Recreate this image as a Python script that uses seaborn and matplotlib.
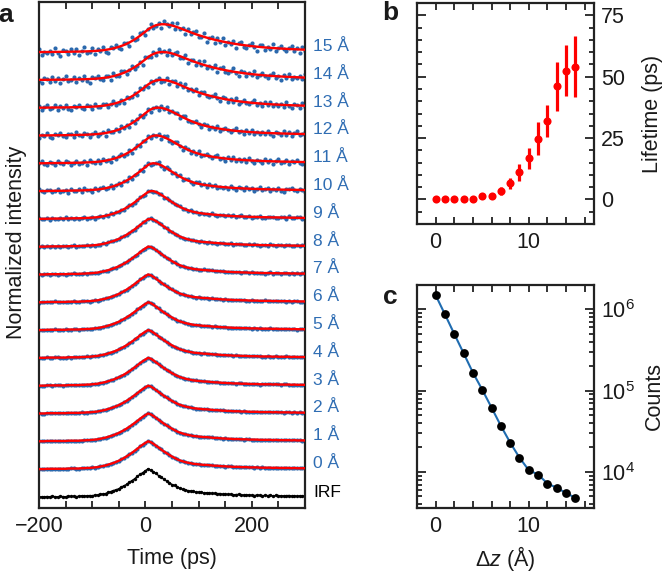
import numpy as np
import pandas as pd
import seaborn as sns
import matplotlib
matplotlib.use("Agg")
import matplotlib.pyplot as plt
from matplotlib.ticker import MultipleLocator, LogLocator, NullFormatter
from matplotlib.transforms import blended_transform_factory

sns.set_style("ticks")
plt.rcParams['font.family'] = ['Liberation Sans', 'DejaVu Sans']
plt.rcParams['mathtext.fontset'] = 'custom'
plt.rcParams['mathtext.rm'] = 'Liberation Sans'
plt.rcParams['mathtext.it'] = 'Liberation Sans:italic'
plt.rcParams['mathtext.bf'] = 'Liberation Sans:bold'
plt.rcParams['text.color'] = '#1a1a1a'
plt.rcParams['axes.labelcolor'] = '#1a1a1a'
plt.rcParams['xtick.labelcolor'] = '#1a1a1a'
plt.rcParams['ytick.labelcolor'] = '#1a1a1a'

# ---------------- data ----------------
time_ps = np.arange(-200, 305, 5)

# instrument response function (normalized), read at 5 ps steps from -200 to 300 ps
irf = [0.00, 0.00, 0.00, 0.01, 0.01, 0.01, 0.01, 0.01, 0.01, 0.01,
       0.01, 0.02, 0.02, 0.02, 0.02, 0.02, 0.03, 0.03, 0.04, 0.04,
       0.05, 0.06, 0.07, 0.09, 0.11, 0.13, 0.16, 0.19, 0.22, 0.26,
       0.30, 0.35, 0.40, 0.46, 0.52, 0.59, 0.66, 0.73, 0.81, 0.88,
       0.94, 1.00, 0.97, 0.91, 0.84, 0.77, 0.70, 0.63, 0.57, 0.51,
       0.45, 0.40, 0.35, 0.31, 0.28, 0.25, 0.23, 0.21, 0.19, 0.18,
       0.17, 0.16, 0.15, 0.15, 0.14, 0.13, 0.12, 0.12, 0.11, 0.10,
       0.10, 0.09, 0.09, 0.08, 0.08, 0.08, 0.07, 0.07, 0.07, 0.06,
       0.06, 0.06, 0.06, 0.05, 0.05, 0.05, 0.05, 0.05, 0.04, 0.05,
       0.04, 0.04, 0.04, 0.04, 0.04, 0.03, 0.04, 0.03, 0.03, 0.03,
       0.03]

separation = list(range(16))                       # Δz (Å)
trace_labels = [f"{d} Å" for d in separation]
lifetime = [0.0, 0.0, 0.0, 0.0, 0.0, 1.2, 1.5, 3.5, 6.5, 11.0,
            16.7, 24.8, 31.8, 46.0, 52.5, 54.0]      # ps
lifetime_err = [0.8, 0.8, 0.8, 0.8, 0.8, 1.0, 1.2, 1.7, 2.3, 3.3,
                4.2, 6.9, 6.5, 9.9, 10.3, 12.4]
counts = [1.5e6, 8.7e5, 5.0e5, 2.9e5, 1.67e5, 1.03e5, 6.2e4, 3.7e4,
          2.3e4, 1.5e4, 1.05e4, 9.3e3, 7.2e3, 6.4e3, 5.5e3, 4.8e3]
noise_level = [0.010, 0.010, 0.010, 0.012, 0.012, 0.015, 0.020, 0.025,
               0.030, 0.045, 0.080, 0.100, 0.110, 0.120, 0.140, 0.160]
irf_noise = 0.012
residual_pattern = [0.3, -0.5, 0.8, -0.2, -0.9, 0.4, 0.1, -0.6, 0.7, -0.3,
                    0.5, -0.8, 0.2, 0.9, -0.4, -0.1, 0.6, -0.7, 0.3, -0.2,
                    0.8, -0.5, -0.9, 0.4, 0.1, 0.7, -0.3, -0.6, 0.5, 0.2,
                    -0.8, 0.9, -0.1, -0.4, 0.6, 0.3, -0.7, 0.1, 0.8, -0.5,
                    -0.2, 0.4, -0.9, 0.7, 0.0, -0.3, 0.5, -0.6, 0.9, -0.1,
                    0.2, -0.8, 0.6, -0.4, 0.3, 0.7, -0.5, -0.2, 0.8, -0.9,
                    0.1, 0.4, -0.7, 0.5, -0.3, 0.9, -0.6, 0.2, -0.1, 0.6,
                    -0.8, 0.3, 0.7, -0.4, -0.5, 0.1, 0.8, -0.2, -0.9, 0.5,
                    0.4, -0.6, 0.2, -0.3, 0.9, -0.7, 0.0, 0.6, -0.1, -0.5,
                    0.3, 0.8, -0.4, 0.2, -0.8, 0.5, -0.2, 0.7, -0.6, 0.1,
                    -0.3]

# ---------------- style ----------------
DOT_BLUE = "#2b69ad"
LABEL_BLUE = "#2f6db3"
LINE_BLUE = "#1f6cb0"
SPINE = "#222222"
FS = 15.5

fig = plt.figure(figsize=(6.66, 5.75), dpi=100)
W, H = 666, 575
ax_a = fig.add_axes([39 / W, 1 - 508 / H, (305 - 39) / W, (508 - 2) / H])
ax_b = fig.add_axes([417 / W, 1 - 224 / H, (594 - 417) / W, (224 - 3) / H])
ax_c = fig.add_axes([417 / W, 1 - 508 / H, (594 - 417) / W, (508 - 285) / H])

irf_arr = np.array(irf)
resid = np.resize(np.array(residual_pattern), time_ps.size)
step = 5.0


def fit_curve(tau):
    if tau < 0.5:
        y = irf_arr.copy()
    else:
        kern = np.exp(-np.arange(0, time_ps.size) * step / tau)
        y = np.convolve(irf_arr, kern)[:time_ps.size]
    return y / y.max()


# ---------------- panel a ----------------
trans = blended_transform_factory(ax_a.transAxes, ax_a.transData)
for i, tau in enumerate(lifetime):
    off = i + 1
    fit = fit_curve(tau)
    data = fit + noise_level[i] * np.roll(resid, 7 * i)
    sns.scatterplot(x=time_ps, y=data + off, ax=ax_a, s=9, color=DOT_BLUE,
                    linewidth=0, zorder=2, legend=False)
    sns.lineplot(x=time_ps, y=fit + off, ax=ax_a, color="red", lw=1.7,
                 estimator=None, zorder=3, legend=False)
    ax_a.text(1.03, off + 0.2, trace_labels[i], color=LABEL_BLUE, fontsize=12.5,
              va="center", ha="left", transform=trans)

irf_trace = irf_arr + irf_noise * np.roll(resid, 3)
sns.lineplot(x=time_ps, y=irf_trace, ax=ax_a, color="black", lw=1.0,
             estimator=None, legend=False)
sns.scatterplot(x=time_ps, y=irf_trace, ax=ax_a, s=6, color="black",
                linewidth=0, legend=False)
ax_a.text(1.03, 0.15, "IRF", color="black", fontsize=12.5, va="center",
          ha="left", transform=trans)

ax_a.set_xlim(-200, 300)
ax_a.set_ylim(-0.4, 17.8)
ax_a.set_yticks([])
ax_a.xaxis.set_major_locator(MultipleLocator(200))
ax_a.xaxis.set_minor_locator(MultipleLocator(50))
ax_a.tick_params(axis="x", which="both", direction="in", top=True, bottom=True,
                 length=5, width=1.3, labelsize=FS, pad=6, color=SPINE)
ax_a.set_xlabel("Time (ps)", fontsize=FS, labelpad=8)
ax_a.set_ylabel("Normalized intensity", fontsize=FS)
ax_a.yaxis.set_label_coords(-0.045, 0.525)

# ---------------- panel b ----------------
ax_b.errorbar(separation, lifetime, yerr=lifetime_err, fmt="none",
              ecolor="red", elinewidth=2.3, capsize=0, zorder=2)
sns.scatterplot(x=separation, y=lifetime, ax=ax_b, color="red", s=34,
                linewidth=0, zorder=3, legend=False)
ax_b.set_xlim(-2, 17)
ax_b.set_ylim(-10, 80)
ax_b.xaxis.set_major_locator(MultipleLocator(10))
ax_b.xaxis.set_minor_locator(MultipleLocator(2))
ax_b.yaxis.set_major_locator(MultipleLocator(25))
ax_b.yaxis.set_minor_locator(MultipleLocator(5))
ax_b.yaxis.set_label_position("right")
ax_b.tick_params(which="both", direction="in", top=True, bottom=True,
                 left=True, right=True, labelleft=False, labelright=True,
                 width=1.3, labelsize=FS, color=SPINE)
ax_b.tick_params(axis="x", which="both", length=5, pad=6)
ax_b.tick_params(axis="y", which="major", length=6.5, pad=5)
ax_b.tick_params(axis="y", which="minor", length=3.5)
ax_b.set_ylabel("Lifetime (ps)", fontsize=FS)
ax_b.yaxis.set_label_coords(1.27, 0.5)

# ---------------- panel c ----------------
ax_c.set_yscale("log")
sns.lineplot(x=separation, y=counts, ax=ax_c, color=LINE_BLUE, lw=1.5,
             estimator=None, zorder=2, legend=False)
sns.scatterplot(x=separation, y=counts, ax=ax_c, color="black", s=40,
                linewidth=0, zorder=3, legend=False)
ax_c.set_xlim(-2, 17)
ax_c.set_ylim(3.6e3, 2.0e6)
ax_c.xaxis.set_major_locator(MultipleLocator(10))
ax_c.xaxis.set_minor_locator(MultipleLocator(2))
ax_c.yaxis.set_major_locator(LogLocator(base=10, numticks=10))
ax_c.yaxis.set_minor_locator(LogLocator(base=10, subs=np.arange(2, 10), numticks=10))
ax_c.yaxis.set_minor_formatter(NullFormatter())
ax_c.yaxis.set_label_position("right")
ax_c.tick_params(which="both", direction="in", top=True, bottom=True,
                 left=True, right=True, labelleft=False, labelright=True,
                 width=1.3, labelsize=FS, color=SPINE)
ax_c.tick_params(axis="x", which="both", length=5, pad=6)
ax_c.tick_params(axis="y", which="major", length=6.5, pad=5)
ax_c.tick_params(axis="y", which="minor", length=3.5)
ax_c.set_xlabel("Δ$z$ (Å)", fontsize=FS, labelpad=5)
ax_c.set_ylabel("Counts", fontsize=FS)
ax_c.yaxis.set_label_coords(1.28, 0.5)

for ax in (ax_a, ax_b, ax_c):
    for sp in ax.spines.values():
        sp.set_linewidth(1.6)
        sp.set_color(SPINE)
    ax.set_facecolor("white")

fig.text(6 / W, 1 - 15 / H, "a", fontsize=19, fontweight="bold", ha="center", va="center")
fig.text(390 / W, 1 - 13 / H, "b", fontsize=19, fontweight="bold", ha="center", va="center")
fig.text(390 / W, 1 - 297 / H, "c", fontsize=19, fontweight="bold", ha="center", va="center")

fig.savefig("out.png", dpi=100, facecolor="white")
